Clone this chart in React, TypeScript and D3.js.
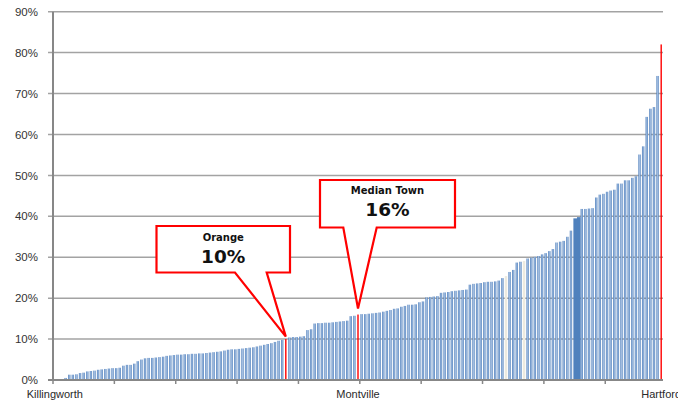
import React from "react";
import * as d3 from "d3";

// Share of residents per town (%), towns sorted from lowest to highest
const shares: number[] = [
  0, 0, 0, 0.5, 1.3, 1.3, 1.4, 1.7, 1.8, 2.1,
  2.2, 2.3, 2.5, 2.6, 2.7, 2.8, 2.9, 2.9, 3.0, 3.5,
  3.7, 3.7, 4.0, 4.6, 5.0, 5.3, 5.4, 5.4, 5.5, 5.6,
  5.7, 5.9, 6.0, 6.1, 6.2, 6.2, 6.3, 6.3, 6.4, 6.4,
  6.5, 6.5, 6.6, 6.7, 6.8, 6.9, 7.0, 7.2, 7.4, 7.5,
  7.5, 7.6, 7.7, 7.8, 7.9, 8.0, 8.2, 8.4, 8.6, 8.8,
  9.0, 9.3, 9.6, 9.8, 10, 10.4, 10.5, 10.5, 10.6, 10.7,
  12.2, 12.4, 13.8, 13.9, 13.9, 14.0, 14.0, 14.1, 14.2, 14.3,
  14.4, 14.5, 15.6, 15.7, 16, 16.1, 16.1, 16.2, 16.3, 16.4,
  16.5, 16.7, 16.9, 17.1, 17.4, 17.5, 17.9, 18.1, 18.4, 18.4,
  18.5, 19.0, 19.2, 20.2, 20.3, 20.4, 20.5, 21.3, 21.4, 21.5,
  21.7, 21.8, 21.9, 22.0, 22.1, 23.3, 23.5, 23.6, 23.7, 23.9,
  24.0, 24.0, 24.1, 24.3, 24.9, 25.4, 26.4, 26.9, 28.7, 28.9,
  29.1, 29.7, 29.9, 30.1, 30.3, 30.7, 31.0, 31.5, 32.0, 33.6,
  33.8, 34.0, 35.0, 36.5, 39.5, 39.8, 41.8, 41.8, 41.9, 42.0,
  44.6, 45.3, 45.5, 46.0, 46.3, 46.5, 48.0, 48.0, 48.8, 48.8,
  49.4, 49.8, 55.1, 57.1, 64.3, 66.3, 66.7, 74.3, 82.0,
];

// Towns named on the category axis and their positions in the sorted list
const axisTowns = ["Killingworth", "Montville", "Hartford"];
const axisTownIdx = [0, 84, 168];

// Highlighted towns (drawn in red)
const redIdx = [64, 84, 168];
// Bars drawn in the pale / dark variants
const paleIdx = [125, 130];
const darkIdx = [144, 145];

// Callouts
const calloutNames = ["Orange", "Median Town"];
const calloutIdx = [64, 84];

const yTicks = [0, 10, 20, 30, 40, 50, 60, 70, 80, 90];
const tickEvery = 17;

const W = 678;
const H = 402;
const LEFT = 53;
const RIGHT = 663;
const TOP = 11.7;
const BASE = 380;

type Box = { l: number; t: number; r: number; b: number; bl: number; br: number; gap: number; nameY: number; valY: number };
const boxes: Box[] = [
  { l: 156.5, t: 226, r: 290, b: 272.5, bl: 235, br: 266.7, gap: 2.5, nameY: 240.7, valY: 263.3 },
  { l: 320, t: 180, r: 455, b: 227.5, bl: 343.3, br: 376.7, gap: 6, nameY: 194, valY: 216 },
];

export default function App() {
  const x = d3
    .scaleBand<number>()
    .domain(d3.range(shares.length))
    .range([LEFT, RIGHT])
    .paddingInner(0.34)
    .paddingOuter(0.17);
  const y = d3.scaleLinear().domain([0, 90]).range([BASE, TOP]);
  const step = x.step();
  const bw = x.bandwidth();
  const cx = (i: number) => (x(i) as number) + bw / 2;

  const tickXs = d3.range(0, shares.length, tickEvery).map((k) => LEFT + k * step);

  return (
    <svg
      width={W}
      height={H}
      style={{ position: "absolute", left: 0, top: 0, background: "#fff" }}
      fontFamily="'Liberation Sans', Arial, sans-serif"
    >
      <defs>
        <linearGradient id="barFill" x1="0" x2="1" y1="0" y2="0">
          <stop offset="0" stopColor="#4a7cba" />
          <stop offset="0.5" stopColor="#a3bde0" />
          <stop offset="1" stopColor="#4f81bd" />
        </linearGradient>
      </defs>

      {/* horizontal gridlines with outward ticks */}
      {yTicks.slice(1).map((v) => (
        <line key={v} x1={LEFT - 5} x2={RIGHT} y1={y(v)} y2={y(v)} stroke="#a3a3a3" strokeWidth={1.5} />
      ))}

      {/* bars */}
      {shares.map((v, i) => {
        if (redIdx.includes(i)) return null;
        const fill = paleIdx.includes(i) ? "#eceae0" : darkIdx.includes(i) ? "#4f81bd" : "url(#barFill)";
        return (
          <rect
            key={i}
            x={x(i) as number}
            y={y(v)}
            width={darkIdx.includes(i) ? step : bw}
            height={BASE - y(v)}
            fill={fill}
          />
        );
      })}
      {redIdx.map((i) => (
        <rect key={`r${i}`} x={cx(i) - 0.7} y={y(shares[i])} width={1.4} height={BASE - y(shares[i])} fill="#ff0000" />
      ))}

      {/* axes */}
      <line x1={LEFT} x2={LEFT} y1={TOP} y2={BASE} stroke="#878787" strokeWidth={2} />
      <line x1={LEFT - 5} x2={RIGHT} y1={BASE} y2={BASE} stroke="#878787" strokeWidth={2} />
      {tickXs.map((tx) => (
        <line key={tx} x1={tx} x2={tx} y1={BASE} y2={BASE + 4} stroke="#878787" strokeWidth={1.5} />
      ))}

      {/* y labels */}
      {yTicks.map((v) => (
        <text key={v} x={38} y={y(v)} dy="0.36em" textAnchor="end" fontSize={11.5} fill="#333">
          {`${v}%`}
        </text>
      ))}

      {/* category labels */}
      {axisTowns.map((name, k) => (
        <text key={name} x={cx(axisTownIdx[k])} y={398} textAnchor="middle" fontSize={11} fill="#2a2a2a">
          {name}
        </text>
      ))}

      {/* callouts */}
      {calloutIdx.map((i, k) => {
        const b = boxes[k];
        const tx = cx(i);
        const ty = y(shares[i]) - b.gap;
        const d = `M${b.l},${b.t}H${b.r}V${b.b}H${b.br}L${tx},${ty}L${b.bl},${b.b}H${b.l}Z`;
        const mid = (b.l + b.r) / 2;
        return (
          <g key={calloutNames[k]}>
            <path d={d} fill="#fff" stroke="#ff0000" strokeWidth={2.2} strokeLinejoin="miter" />
            <text x={mid} y={b.nameY} textAnchor="middle" fontFamily="'DejaVu Sans', sans-serif" fontWeight="bold" fontSize={10} fill="#111">
              {calloutNames[k]}
            </text>
            <text x={mid} y={b.valY} textAnchor="middle" fontFamily="'DejaVu Sans', sans-serif" fontWeight="bold" fontSize={18.5} fill="#111">
              {`${shares[i]}%`}
            </text>
          </g>
        );
      })}
    </svg>
  );
}
